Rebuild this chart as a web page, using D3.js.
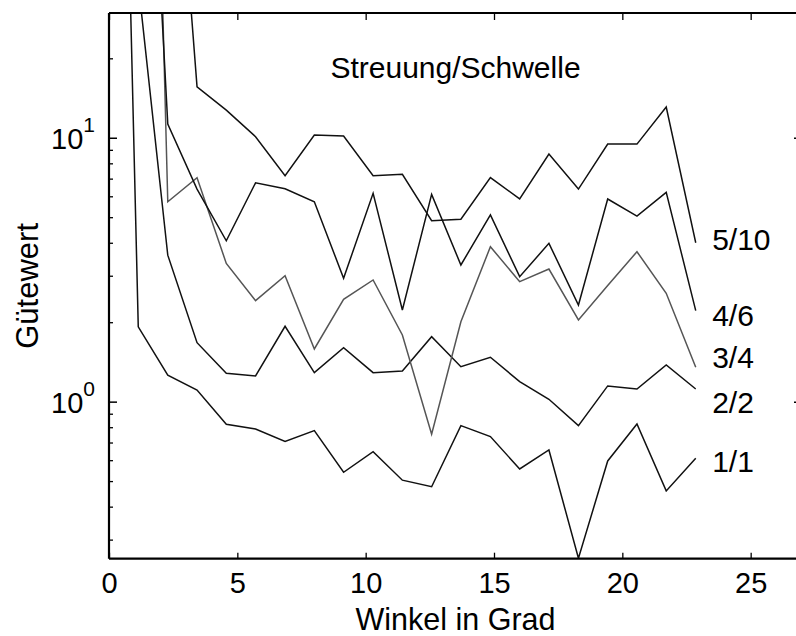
<!DOCTYPE html>
<html><head><meta charset="utf-8">
<script src="https://cdn.jsdelivr.net/npm/d3@7"></script>
<style>body{margin:0;background:#fff}svg{display:block}text{font-family:"Liberation Sans",Arial,sans-serif;fill:#000}</style>
</head><body><svg id="c" width="796" height="636"></svg>
<script>
// Winkel in Grad (x)
const angles = [0, 1.14, 2.29, 3.43, 4.57, 5.71, 6.86, 8.00, 9.14, 10.29, 11.43, 12.57, 13.71, 14.86, 16.00, 17.14, 18.29, 19.43, 20.57, 21.71, 22.86];
// Gütewert per Streuung/Schwelle (first points lie far above the visible range)
const s1_1  = [80000, 1.92, 1.26, 1.107, 0.821, 0.788, 0.706, 0.777, 0.540, 0.646, 0.504, 0.476, 0.811, 0.737, 0.556, 0.656, 0.255, 0.596, 0.823, 0.459, 0.610];
const s2_2  = [3000, 38.5, 3.59, 1.673, 1.281, 1.251, 1.930, 1.288, 1.602, 1.288, 1.307, 1.763, 1.357, 1.473, 1.191, 1.021, 0.811, 1.147, 1.117, 1.377, 1.117];
const s3_4  = [1000000, 110000, 5.72, 7.06, 3.34, 2.413, 3.00, 1.584, 2.443, 2.891, 1.789, 0.752, 2.009, 3.865, 2.848, 3.18, 2.039, 2.755, 3.70, 2.574, 1.350];
const s4_6  = [100000, 1425, 11.27, 6.39, 4.07, 6.75, 6.41, 5.72, 2.934, 6.16, 2.225, 6.10, 3.295, 5.10, 2.975, 3.98, 2.324, 5.86, 5.05, 6.21, 2.212];
const s5_10 = [50000, 5000, 427, 15.6, 12.73, 10.09, 7.18, 10.24, 10.15, 7.18, 7.27, 4.85, 4.91, 7.06, 5.87, 8.68, 6.39, 9.46, 9.46, 13.07, 4.00];
const seriesNames = ["1/1", "2/2", "3/4", "4/6", "5/10"];
const seriesValues = [s1_1, s2_2, s3_4, s4_6, s5_10];
const seriesColors = ["#111", "#111", "#555", "#111", "#111"];
const labelValues = [0.596, 0.993, 1.47, 2.13, 4.13];
const labelAngle = 23.5;
const xTicks = [0, 5, 10, 15, 20, 25];
const yMajor = [1, 10];
const yMinor = [0.3, 0.4, 0.5, 0.6, 0.7, 0.8, 0.9, 2, 3, 4, 5, 6, 7, 8, 9, 20];
const title = "Streuung/Schwelle";
const xTitle = "Winkel in Grad";
const yTitle = "Gütewert";

const svg = d3.select("#c");
const L = 109, R = 802, T = 13, B = 558.7;
const x = d3.scaleLinear().domain([0, 27]).range([L, R]);
const y = d3.scaleLog().domain([0.254, 29.7]).range([B, T]);

svg.append("defs").append("clipPath").attr("id", "clip")
  .append("rect").attr("x", L).attr("y", T).attr("width", R - L).attr("height", B - T);

const line = d3.line().x((d, i) => x(angles[i])).y(d => y(d));
const g = svg.append("g").attr("clip-path", "url(#clip)");
seriesValues.forEach((s, i) => {
  g.append("path").attr("d", line(s)).attr("fill", "none")
    .attr("stroke", seriesColors[i]).attr("stroke-width", 1.5).attr("stroke-linejoin", "miter");
});

// axes
const ax = svg.append("g");
// bottom
ax.append("g").attr("transform", `translate(0,${B})`)
  .call(d3.axisBottom(x).tickValues(xTicks).tickSize(-6).tickPadding(14).tickFormat(d3.format("d")))
  .call(s => { s.select(".domain").remove(); s.selectAll("line").attr("stroke", "#000").attr("stroke-width", 1.3);
    s.selectAll("text").attr("font-size", 29).attr("font-family", '"Liberation Sans",Arial,sans-serif').attr("fill", "#000"); });
// top
ax.append("g").attr("transform", `translate(0,${T})`)
  .call(d3.axisTop(x).tickValues(xTicks).tickSize(-7).tickFormat(""))
  .call(s => { s.select(".domain").remove(); s.selectAll("line").attr("stroke", "#000").attr("stroke-width", 1.3); });
// left major/minor
ax.append("g").attr("transform", `translate(${L},0)`)
  .call(d3.axisLeft(y).tickValues(yMajor).tickSize(-8).tickFormat(""))
  .call(s => { s.select(".domain").remove(); s.selectAll("line").attr("stroke", "#000").attr("stroke-width", 1.5); });
ax.append("g").attr("transform", `translate(${L},0)`)
  .call(d3.axisLeft(y).tickValues(yMinor).tickSize(-4).tickFormat(""))
  .call(s => { s.select(".domain").remove(); s.selectAll("line").attr("stroke", "#000").attr("stroke-width", 1.3); });
// right
ax.append("g").attr("transform", `translate(${R},0)`)
  .call(d3.axisRight(y).tickValues(yMajor).tickSize(-8).tickFormat(""))
  .call(s => { s.select(".domain").remove(); s.selectAll("line").attr("stroke", "#000").attr("stroke-width", 1.5); });
ax.append("g").attr("transform", `translate(${R},0)`)
  .call(d3.axisRight(y).tickValues(yMinor).tickSize(-4).tickFormat(""))
  .call(s => { s.select(".domain").remove(); s.selectAll("line").attr("stroke", "#000").attr("stroke-width", 1.3); });
// frame
svg.append("line").attr("x1", L).attr("x2", R).attr("y1", B).attr("y2", B).attr("stroke", "#000").attr("stroke-width", 2.2);
svg.append("line").attr("x1", L).attr("x2", R).attr("y1", T).attr("y2", T).attr("stroke", "#000").attr("stroke-width", 1.8);
svg.append("line").attr("x1", L).attr("x2", L).attr("y1", T).attr("y2", B).attr("stroke", "#000").attr("stroke-width", 2.2);
svg.append("line").attr("x1", R).attr("x2", R).attr("y1", T).attr("y2", B).attr("stroke", "#000").attr("stroke-width", 2);

// y tick labels with exponents
yMajor.forEach(v => {
  const t = svg.append("text").attr("x", 95).attr("y", y(v) + 11).attr("text-anchor", "end").attr("font-size", 29);
  t.append("tspan").text("10");
  t.append("tspan").attr("dy", -17).attr("font-size", 21).text(String(Math.round(Math.log10(v))));
});

// titles
svg.append("text").attr("x", (L + R) / 2).attr("y", 78).attr("text-anchor", "middle").attr("font-size", 30).text(title);
svg.append("text").attr("x", (L + R) / 2).attr("y", 630).attr("text-anchor", "middle").attr("font-size", 30.5).text(xTitle);
svg.append("text").attr("transform", `translate(38,${(T + B) / 2}) rotate(-90)`).attr("text-anchor", "middle").attr("font-size", 31).text(yTitle);

// series labels
seriesNames.forEach((n, i) => {
  svg.append("text").attr("x", x(labelAngle)).attr("y", y(labelValues[i])).attr("dy", "0.36em")
    .attr("font-size", 30).text(n);
});
</script></body></html>
